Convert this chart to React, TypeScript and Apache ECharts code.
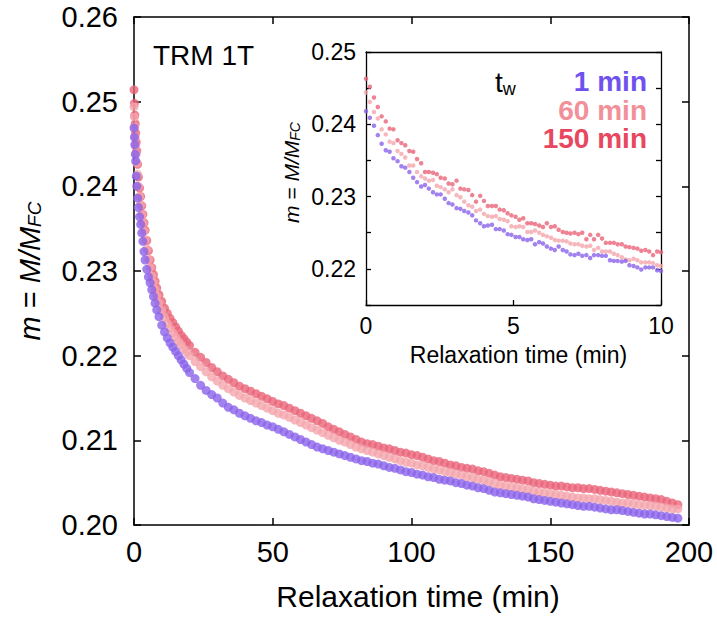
import React, { useEffect, useRef } from "react";
import * as echarts from "echarts";

const FONT = '"Liberation Sans", Arial, Helvetica, sans-serif';

// ---------- main panel (relaxation time in minutes) ----------
const mainTime = [
  0, 0.15, 0.3, 0.45, 0.6, 0.8, 1.0, 1.3, 1.6, 2.0, 2.4, 2.8, 3.2, 3.6, 4.0, 4.6, 5.2, 5.8, 6.4, 7.0, 7.6, 8.2, 9,
  10, 11, 12, 13, 14, 15, 16, 17, 18, 19, 20,
  22, 24, 26, 28, 30, 32, 34, 36, 38, 40, 42, 44, 46, 48, 50, 52, 54, 56, 58, 60, 62, 64, 66, 68, 70, 72, 74, 76, 78, 80, 82, 84, 86, 88,
  90, 92, 94, 96, 98, 100, 102, 104, 106, 108, 110, 112, 114, 116, 118, 120, 122, 124, 126, 128, 130, 132, 134, 136, 138, 140,
  142, 144, 146, 148, 150, 152, 154, 156, 158, 160, 162, 164, 166, 168, 170, 172, 174, 176, 178, 180, 182, 184, 186, 188, 190, 192, 194, 196,
];

const main1min = [
  0.2469, 0.2458, 0.2449, 0.2438, 0.2430, 0.2412, 0.2400, 0.2386, 0.2375, 0.2364, 0.2355, 0.2345, 0.2335, 0.2323, 0.2313, 0.2302, 0.2293, 0.2286, 0.2278, 0.2270, 0.2262, 0.2254, 0.2246,
  0.2236, 0.2228, 0.2221, 0.2215, 0.2210, 0.2205, 0.2200, 0.2195, 0.2190, 0.2185, 0.2180,
  0.2173, 0.2165, 0.2159, 0.2154, 0.2150, 0.2144, 0.2139, 0.2136, 0.2132, 0.2129, 0.2126, 0.2123, 0.2121, 0.2118, 0.2116, 0.2113, 0.2110, 0.2107, 0.2104, 0.2101, 0.2098, 0.2095, 0.2092, 0.2090, 0.2088, 0.2086, 0.2084, 0.2082, 0.2080, 0.2078, 0.2076, 0.2075, 0.2073, 0.2072,
  0.2070, 0.2068, 0.2067, 0.2065, 0.2063, 0.2062, 0.2060, 0.2059, 0.2057, 0.2056, 0.2054, 0.2053, 0.2052, 0.2050, 0.2049, 0.2047, 0.2046, 0.2044, 0.2043, 0.2041, 0.2039, 0.2038, 0.2037, 0.2036, 0.2035, 0.2034,
  0.2033, 0.2031, 0.2030, 0.2029, 0.2028, 0.2027, 0.2026, 0.2025, 0.2024, 0.2023, 0.2022, 0.2022, 0.2021, 0.2020, 0.2019, 0.2018, 0.2018, 0.2017, 0.2016, 0.2015, 0.2014, 0.2013, 0.2013, 0.2012, 0.2011, 0.2010, 0.2009, 0.2008,
];

const main60min = [
  0.2494, 0.2482, 0.2470, 0.2458, 0.2448, 0.2438, 0.2428, 0.2414, 0.2400, 0.2388, 0.2378, 0.2367, 0.2357, 0.2347, 0.2337, 0.2326, 0.2314, 0.2304, 0.2294, 0.2286, 0.2278, 0.2270, 0.2262,
  0.2253, 0.2245, 0.2238, 0.2232, 0.2227, 0.2222, 0.2217, 0.2213, 0.2208, 0.2204, 0.2200,
  0.2193, 0.2187, 0.2181, 0.2175, 0.2170, 0.2165, 0.2161, 0.2157, 0.2153, 0.2150, 0.2147, 0.2144, 0.2141, 0.2138, 0.2135, 0.2132, 0.2130, 0.2127, 0.2124, 0.2121, 0.2118, 0.2115, 0.2112, 0.2109, 0.2106, 0.2103, 0.2100, 0.2098, 0.2095, 0.2092, 0.2090, 0.2088, 0.2086, 0.2084,
  0.2082, 0.2080, 0.2078, 0.2076, 0.2074, 0.2073, 0.2071, 0.2070, 0.2068, 0.2066, 0.2065, 0.2063, 0.2062, 0.2060, 0.2059, 0.2057, 0.2056, 0.2054, 0.2053, 0.2051, 0.2049, 0.2047, 0.2046, 0.2045, 0.2044, 0.2043,
  0.2042, 0.2040, 0.2039, 0.2038, 0.2037, 0.2036, 0.2035, 0.2034, 0.2033, 0.2032, 0.2032, 0.2031, 0.2031, 0.2030, 0.2029, 0.2028, 0.2027, 0.2026, 0.2026, 0.2025, 0.2024, 0.2023, 0.2023, 0.2022, 0.2021, 0.2020, 0.2019, 0.2019,
];

const main150min = [
  0.2514, 0.2498, 0.2484, 0.2474, 0.2463, 0.2452, 0.2442, 0.2426, 0.2411, 0.2398, 0.2388, 0.2377, 0.2367, 0.2357, 0.2348, 0.2336, 0.2324, 0.2313, 0.2304, 0.2296, 0.2288, 0.2280, 0.2272,
  0.2264, 0.2256, 0.2250, 0.2244, 0.2239, 0.2234, 0.2229, 0.2224, 0.2220, 0.2216, 0.2212,
  0.2204, 0.2198, 0.2192, 0.2186, 0.2181, 0.2176, 0.2172, 0.2168, 0.2164, 0.2161, 0.2158, 0.2155, 0.2152, 0.2149, 0.2146, 0.2143, 0.2141, 0.2138, 0.2135, 0.2132, 0.2129, 0.2126, 0.2123, 0.2120, 0.2116, 0.2113, 0.2110, 0.2107, 0.2104, 0.2101, 0.2098, 0.2096, 0.2095, 0.2093,
  0.2091, 0.2090, 0.2088, 0.2086, 0.2085, 0.2083, 0.2082, 0.2080, 0.2078, 0.2076, 0.2075, 0.2073, 0.2071, 0.2070, 0.2068, 0.2067, 0.2066, 0.2064, 0.2063, 0.2061, 0.2059, 0.2057, 0.2056, 0.2055, 0.2054, 0.2053,
  0.2052, 0.2050, 0.2049, 0.2048, 0.2047, 0.2046, 0.2046, 0.2045, 0.2044, 0.2044, 0.2043, 0.2043, 0.2042, 0.2041, 0.2040, 0.2039, 0.2038, 0.2037, 0.2036, 0.2035, 0.2034, 0.2033, 0.2032, 0.2031, 0.2030, 0.2028, 0.2026, 0.2024,
];

// ---------- inset (first 10 minutes) ----------
const insetTime = [
  0, 0.13, 0.27, 0.4, 0.53, 0.67, 0.8, 0.93, 1.07, 1.2, 1.33, 1.47, 1.6, 1.73, 1.87,
  2, 2.13, 2.27, 2.4, 2.53, 2.67, 2.8, 2.93, 3.07, 3.2, 3.33, 3.47, 3.6, 3.73, 3.87,
  4, 4.13, 4.27, 4.4, 4.53, 4.67, 4.8, 4.93, 5.07, 5.2, 5.33, 5.47, 5.6, 5.73, 5.87,
  6, 6.13, 6.27, 6.4, 6.53, 6.67, 6.8, 6.93, 7.07, 7.2, 7.33, 7.47, 7.6, 7.73, 7.87,
  8, 8.13, 8.27, 8.4, 8.53, 8.67, 8.8, 8.93, 9.07, 9.2, 9.33, 9.47, 9.6, 9.73, 9.87, 10,
];

const inset1min = [
  0.2418, 0.2409, 0.2398, 0.2385, 0.2373, 0.2364, 0.2362, 0.2353, 0.2349, 0.2342, 0.2340, 0.2334, 0.2326, 0.2320, 0.2314,
  0.2316, 0.2311, 0.2306, 0.2303, 0.2303, 0.2297, 0.2291, 0.2289, 0.2284, 0.2283, 0.2280, 0.2278, 0.2274, 0.2267, 0.2263,
  0.2259, 0.2260, 0.2261, 0.2255, 0.2255, 0.2253, 0.2248, 0.2247, 0.2244, 0.2244, 0.2241, 0.2240, 0.2241, 0.2234, 0.2237,
  0.2235, 0.2231, 0.2228, 0.2226, 0.2231, 0.2226, 0.2224, 0.2220, 0.2219, 0.2221, 0.2218, 0.2219, 0.2215, 0.2219, 0.2219,
  0.2218, 0.2218, 0.2212, 0.2211, 0.2211, 0.2210, 0.2211, 0.2205, 0.2204, 0.2202, 0.2199, 0.2202, 0.2202, 0.2202, 0.2198, 0.2197,
];

const inset60min = [
  0.2444, 0.2431, 0.2417, 0.2408, 0.2393, 0.2386, 0.2376, 0.2374, 0.2363, 0.2359, 0.2354, 0.2343, 0.2343, 0.2334, 0.2328,
  0.2325, 0.2322, 0.2323, 0.2315, 0.2313, 0.2310, 0.2306, 0.2310, 0.2302, 0.2299, 0.2293, 0.2288, 0.2286, 0.2280, 0.2282,
  0.2276, 0.2273, 0.2272, 0.2273, 0.2269, 0.2268, 0.2266, 0.2259, 0.2258, 0.2259, 0.2258, 0.2251, 0.2251, 0.2253, 0.2250,
  0.2247, 0.2245, 0.2243, 0.2240, 0.2239, 0.2239, 0.2238, 0.2235, 0.2234, 0.2234, 0.2232, 0.2231, 0.2232, 0.2226, 0.2229,
  0.2224, 0.2224, 0.2224, 0.2221, 0.2219, 0.2216, 0.2213, 0.2212, 0.2214, 0.2212, 0.2209, 0.2209, 0.2209, 0.2208, 0.2205, 0.2204,
];

const inset150min = [
  0.2463, 0.2452, 0.2437, 0.2424, 0.2411, 0.2404, 0.2394, 0.2393, 0.2378, 0.2374, 0.2371, 0.2363, 0.2362, 0.2352, 0.2346,
  0.2334, 0.2334, 0.2333, 0.2331, 0.2326, 0.2325, 0.2318, 0.2317, 0.2322, 0.2311, 0.2310, 0.2309, 0.2302, 0.2293, 0.2301,
  0.2294, 0.2287, 0.2287, 0.2287, 0.2282, 0.2281, 0.2277, 0.2274, 0.2272, 0.2268, 0.2270, 0.2263, 0.2263, 0.2262, 0.2260,
  0.2258, 0.2263, 0.2258, 0.2259, 0.2254, 0.2251, 0.2250, 0.2249, 0.2250, 0.2248, 0.2250, 0.2241, 0.2247, 0.2241, 0.2247,
  0.2242, 0.2236, 0.2236, 0.2236, 0.2234, 0.2234, 0.2231, 0.2230, 0.2229, 0.2228, 0.2225, 0.2226, 0.2224, 0.2219, 0.2224, 0.2223,
];

const seriesNames = ["1 min", "60 min", "150 min"];
const dotColors = ["#8B63EA", "#F4A5AD", "#EA6479"];
const legendColors = ["#6F52EE", "#F2909A", "#E8475F"];

const pair = (xs: number[], ys: number[]) => ys.map((y, i) => [xs[i], y]);

const axisLineStyle = { color: "#000", width: 1.5 };

export default function App() {
  const ref = useRef<HTMLDivElement>(null);

  useEffect(() => {
    if (!ref.current) return;
    const chart = echarts.init(ref.current, undefined, { renderer: "svg" });

    const mainSets = [main1min, main60min, main150min];
    const insetSets = [inset1min, inset60min, inset150min];
    const order = [2, 1, 0]; // draw 150 min first, 1 min on top

    const series: any[] = [];
    order.forEach((k) => {
      series.push({
        name: seriesNames[k],
        type: "scatter",
        xAxisIndex: 0,
        yAxisIndex: 0,
        symbol: "circle",
        symbolSize: 9,
        itemStyle: { color: dotColors[k] },
        data: pair(mainTime, mainSets[k]),
        silent: true,
      });
    });
    order.forEach((k) => {
      series.push({
        name: seriesNames[k] + " (inset)",
        type: "scatter",
        xAxisIndex: 2,
        yAxisIndex: 2,
        symbol: "circle",
        symbolSize: 4.5,
        itemStyle: { color: dotColors[k] },
        data: pair(insetTime, insetSets[k]),
        silent: true,
      });
    });

    const yNameRich = (size: number, sub: number, subLH: number) => ({
      i: { fontStyle: "italic", fontSize: size, fontFamily: FONT, color: "#000" },
      n: { fontSize: size, fontFamily: FONT, color: "#000" },
      s: { fontStyle: "italic", fontSize: sub, fontFamily: FONT, color: "#000", lineHeight: subLH, verticalAlign: "bottom" },
    });

    const option: any = {
      animation: false,
      backgroundColor: "#fff",
      grid: [
        { left: 134, top: 17, width: 555, height: 508 },
        { left: 366, top: 52, width: 295, height: 253 },
      ],
      xAxis: [
        {
          gridIndex: 0, type: "value", min: 0, max: 200, interval: 50, position: "bottom",
          axisLine: { show: true, onZero: false, lineStyle: axisLineStyle },
          axisTick: { show: true, inside: true, length: 7, lineStyle: axisLineStyle },
          axisLabel: { color: "#000", fontSize: 29, fontFamily: FONT, margin: 12 },
          splitLine: { show: false },
          name: "Relaxation time (min)",
          nameLocation: "middle",
          nameGap: 56,
          nameTextStyle: { color: "#000", fontSize: 30, fontFamily: FONT, padding: [0, 0, 0, 13] },
        },
        {
          gridIndex: 0, type: "value", min: 0, max: 200, interval: 50, position: "top",
          axisLine: { show: true, onZero: false, lineStyle: axisLineStyle },
          axisTick: { show: true, inside: true, length: 7, lineStyle: axisLineStyle },
          axisLabel: { show: false },
          splitLine: { show: false },
        },
        {
          gridIndex: 1, type: "value", min: 0, max: 10, interval: 5, position: "bottom",
          axisLine: { show: true, onZero: false, lineStyle: { color: "#000", width: 1.3 } },
          axisTick: { show: true, inside: true, length: 5, lineStyle: { color: "#000", width: 1.3 } },
          axisLabel: { color: "#000", fontSize: 23, fontFamily: FONT, margin: 9 },
          splitLine: { show: false },
          name: "Relaxation time (min)",
          nameLocation: "middle",
          nameGap: 38,
          nameTextStyle: { color: "#000", fontSize: 23, fontFamily: FONT, padding: [0, 0, 0, 10] },
        },
        {
          gridIndex: 1, type: "value", min: 0, max: 10, interval: 5, position: "top",
          axisLine: { show: true, onZero: false, lineStyle: { color: "#000", width: 1.3 } },
          axisTick: { show: false },
          axisLabel: { show: false },
          splitLine: { show: false },
        },
      ],
      yAxis: [
        {
          gridIndex: 0, type: "value", min: 0.2, max: 0.26, interval: 0.01, position: "left",
          axisLine: { show: true, onZero: false, lineStyle: axisLineStyle },
          axisTick: { show: true, inside: true, length: 7, lineStyle: axisLineStyle },
          axisLabel: { color: "#000", fontSize: 29, fontFamily: FONT, margin: 16, formatter: (v: number) => v.toFixed(2) },
          splitLine: { show: false },
          name: "{i|m}{n| = }{i|M/M}{s|FC}",
          nameLocation: "middle",
          nameRotate: 90,
          nameGap: 90,
          nameTextStyle: { color: "#000", fontSize: 29, fontFamily: FONT, rich: yNameRich(29, 19, 12) },
        },
        {
          gridIndex: 0, type: "value", min: 0.2, max: 0.26, interval: 0.01, position: "right",
          axisLine: { show: true, onZero: false, lineStyle: axisLineStyle },
          axisTick: { show: true, inside: true, length: 7, lineStyle: axisLineStyle },
          axisLabel: { show: false },
          splitLine: { show: false },
        },
        {
          gridIndex: 1, type: "value", min: 0.215, max: 0.25, interval: 0.005, position: "left",
          axisLine: { show: true, onZero: false, lineStyle: { color: "#000", width: 1.3 } },
          axisTick: { show: true, inside: true, length: 5, lineStyle: { color: "#000", width: 1.3 } },
          axisLabel: {
            color: "#000", fontSize: 23, fontFamily: FONT, margin: 10,
            formatter: (v: number) => {
              const k = Math.round(v * 1000);
              return k % 10 === 0 ? (k / 1000).toFixed(2) : "";
            },
          },
          splitLine: { show: false },
          name: "{i|m}{n| = }{i|M/M}{s|FC}",
          nameLocation: "middle",
          nameRotate: 90,
          nameGap: 64,
          nameTextStyle: { color: "#000", fontSize: 21, fontFamily: FONT, rich: yNameRich(21, 14, 9), padding: [0, 0, 0, 12] },
        },
        {
          gridIndex: 1, type: "value", min: 0.215, max: 0.25, interval: 0.005, position: "right",
          axisLine: { show: true, onZero: false, lineStyle: { color: "#000", width: 1.3 } },
          axisTick: { show: true, inside: true, length: 5, lineStyle: { color: "#000", width: 1.3 } },
          axisLabel: { show: false },
          splitLine: { show: false },
        },
      ],
      graphic: [
        {
          type: "text", x: 153, y: 55, silent: true,
          style: { text: "TRM 1T", fontSize: 28, fontFamily: FONT, fill: "#000", align: "left", verticalAlign: "middle" },
        },
        {
          type: "text", x: 495, y: 82, silent: true,
          style: {
            text: "{t|t}{w|w}", align: "left", verticalAlign: "middle",
            rich: {
              t: { fontSize: 28, fontFamily: FONT, fill: "#000", lineHeight: 32 },
              w: { fontSize: 18, fontFamily: FONT, fill: "#000", lineHeight: 12, verticalAlign: "bottom" },
            },
          },
        },
        ...seriesNames.map((nm, k) => ({
          type: "text", x: 647, y: [81, 110, 138][k], silent: true,
          style: {
            text: nm, fontSize: 28, fontWeight: "bold", fontFamily: FONT,
            fill: legendColors[k], align: "right", verticalAlign: "middle",
          },
        })),
      ],
      series,
    };

    chart.setOption(option);
    return () => chart.dispose();
  }, []);

  return (
    <div
      ref={ref}
      style={{ position: "fixed", left: 0, top: 0, width: 717, height: 617, background: "#fff" }}
    />
  );
}
